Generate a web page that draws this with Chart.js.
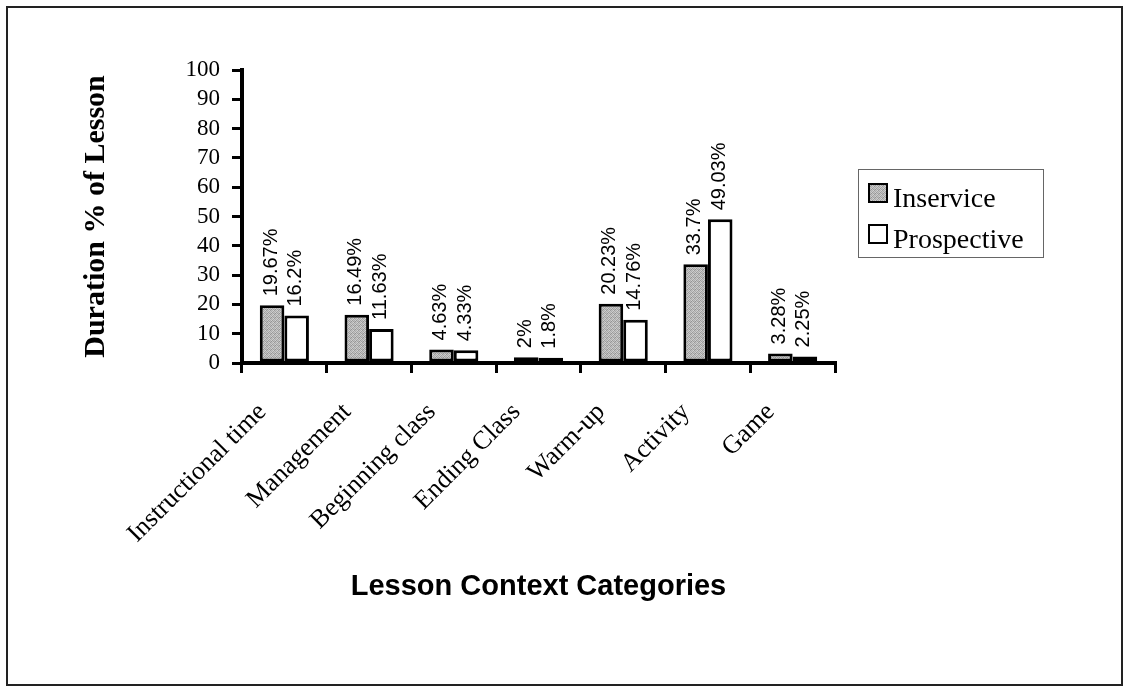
<!DOCTYPE html>
<html>
<head>
<meta charset="utf-8">
<script src="https://cdn.jsdelivr.net/npm/chart.js@4/dist/chart.umd.min.js"></script>
<style>
  html,body{margin:0;padding:0;background:#fff;}
  canvas{display:block;}
</style>
</head>
<body>
<canvas id="c" width="1125" height="687"></canvas>
<script>
// data
const categories=['Instructional time','Management','Beginning class','Ending Class','Warm-up','Activity','Game'];
const inservice=[19.67,16.49,4.63,2,20.23,33.7,3.28];
const prospective=[16.2,11.63,4.33,1.8,14.76,49.03,2.25];
const seriesNames=['Inservice','Prospective'];
const yTicks=[0,10,20,30,40,50,60,70,80,90,100];

// stippled grey fill like the scanned original
function stipple(){
  const t=document.createElement('canvas'); t.width=4; t.height=4;
  const g=t.getContext('2d');
  const shades=['#9a9a9a','#c4c4c4','#acacac','#d0d0d0',
                '#c8c8c8','#a0a0a0','#bcbcbc','#949494',
                '#b0b0b0','#d4d4d4','#989898','#c0c0c0',
                '#cccccc','#a4a4a4','#c6c6c6','#aaaaaa'];
  shades.forEach((s,i)=>{ g.fillStyle=s; g.fillRect(i%4,Math.floor(i/4),1,1); });
  return document.getElementById('c').getContext('2d').createPattern(t,'repeat');
}
const grey=stipple();

const SERIF='"Liberation Serif","Times New Roman",serif';
const SANS='"Liberation Sans",Arial,sans-serif';

const barLabels={
  id:'barLabels',
  afterDatasetsDraw(chart){
    const ctx=chart.ctx;
    ctx.save();
    ctx.font='20px '+SANS;
    ctx.fillStyle='#000';
    ctx.textAlign='left';
    ctx.textBaseline='middle';
    chart.data.datasets.forEach((ds,di)=>{
      chart.getDatasetMeta(di).data.forEach((bar,i)=>{
        ctx.save();
        ctx.translate(bar.x-1,bar.y-9);
        ctx.rotate(-Math.PI/2);
        ctx.fillText(ds.data[i]+'%',0,0);
        ctx.restore();
      });
    });
    ctx.restore();
  }
};

const frameAndLegend={
  id:'frameAndLegend',
  afterDraw(chart){
    const ctx=chart.ctx;
    ctx.save();
    ctx.strokeStyle='#222'; ctx.lineWidth=2;
    ctx.strokeRect(7,7,1115,678);
    // legend box
    ctx.strokeStyle='#666'; ctx.lineWidth=1;
    ctx.strokeRect(858.5,169.5,185,88);
    ctx.font='28px '+SERIF;
    ctx.textBaseline='alphabetic';
    ctx.textAlign='left';
    const rows=[207,248];
    chart.data.datasets.forEach((ds,i)=>{
      const y=rows[i];
      ctx.fillStyle=ds.backgroundColor;
      ctx.fillRect(869,y-23,18,18);
      ctx.strokeStyle='#000'; ctx.lineWidth=2;
      ctx.strokeRect(869,y-23,18,18);
      ctx.fillStyle='#000';
      ctx.fillText(ds.label,893,y);
    });
    ctx.restore();
  }
};

new Chart(document.getElementById('c'),{
  type:'bar',
  data:{
    labels:categories,
    datasets:[
      {label:seriesNames[0],data:inservice,backgroundColor:grey,borderColor:'#000',borderWidth:3,borderSkipped:false},
      {label:seriesNames[1],data:prospective,backgroundColor:'#fff',borderColor:'#000',borderWidth:3,borderSkipped:false}
    ]
  },
  options:{
    responsive:false,
    animation:false,
    devicePixelRatio:1,
    layout:{padding:{left:78,top:70,right:290,bottom:83}},
    plugins:{legend:{display:false},tooltip:{enabled:false}},
    datasets:{bar:{categoryPercentage:0.58,barPercentage:1}},
    scales:{
      x:{
        grid:{drawOnChartArea:false,drawTicks:true,tickLength:10,lineWidth:3,color:'#000',offset:true},
        border:{color:'#000',width:4},
        ticks:{color:'#000',font:{family:SERIF,size:26},minRotation:45,maxRotation:45,autoSkip:false,padding:24,labelOffset:-22},
        title:{display:true,text:'Lesson Context Categories',color:'#000',font:{family:SANS,size:29,weight:'bold'},padding:0},
        afterFit(s){ s.height=241; }
      },
      y:{
        min:0,max:100,
        afterBuildTicks(s){ s.ticks=yTicks.map(v=>({value:v})); },
        grid:{drawOnChartArea:false,drawTicks:true,tickLength:10,lineWidth:3,color:'#000'},
        border:{color:'#000',width:4},
        ticks:{color:'#000',font:{family:SERIF,size:23},padding:12,autoSkip:false},
        title:{display:true,text:'Duration % of Lesson',color:'#000',font:{family:SERIF,size:30,weight:'bold'},padding:0},
        afterFit(s){ s.width=164; }
      }
    }
  },
  plugins:[barLabels,frameAndLegend]
});
</script>
</body>
</html>
